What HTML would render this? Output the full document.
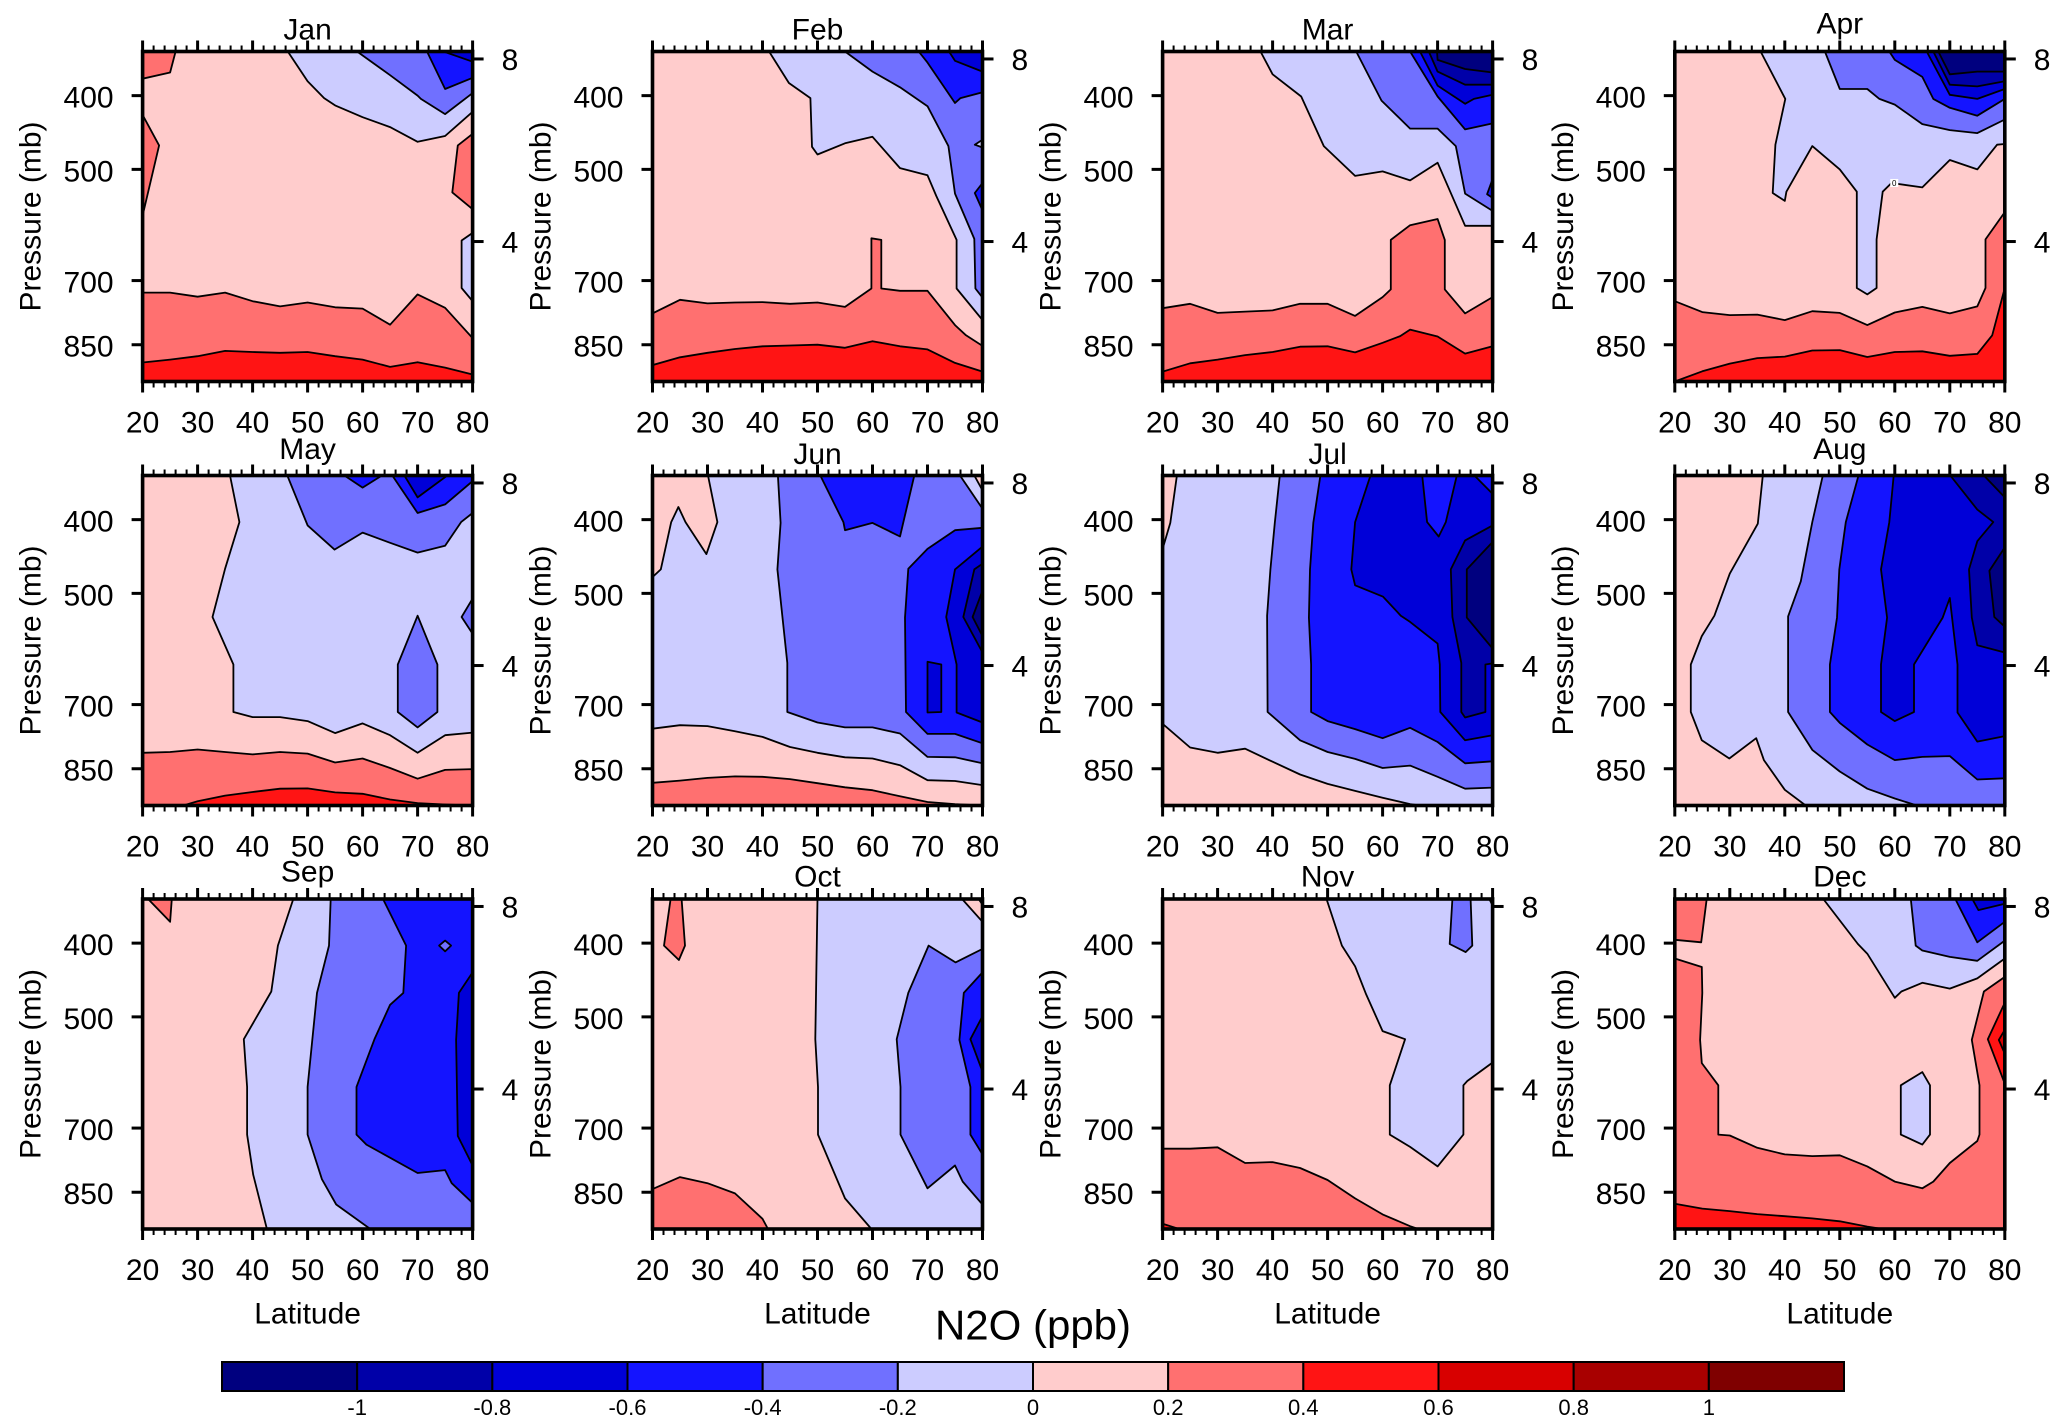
<!DOCTYPE html>
<html lang="en">
<head>
<meta charset="utf-8">
<title>N2O (ppb) monthly latitude-pressure panels</title>
<style>
html,body{margin:0;padding:0;background:#fff;}
svg{display:block;font-family:"Liberation Sans",Arial,sans-serif;fill:#000;}
</style>
</head>
<body>
<svg id="chart" xmlns="http://www.w3.org/2000/svg" width="2067" height="1428" viewBox="0 0 2067 1428">
  <rect x="0" y="0" width="2067" height="1428" fill="#ffffff"></rect>
  <text x="1033" y="1339.5" font-size="42" text-anchor="middle">N2O (ppb)</text>
</svg>
<script>
const months = ['Jan','Feb','Mar','Apr','May','Jun','Jul','Aug','Sep','Oct','Nov','Dec'];
const latTicks = [20,30,40,50,60,70,80];
const latMinorTicks = [22,24,26,28,32,34,36,38,42,44,46,48,52,54,56,58,62,64,66,68,72,74,76,78];
const pressureTicks = [400,500,700,850];
const heightTickLabels = [8,4];
const heightTickPressures = [358,622];
const levels = [-1.2,-1,-0.8,-0.6,-0.4,-0.2,0,0.2,0.4,0.6,0.8,1];
const colorbarLabels = ['-1','-0.8','-0.6','-0.4','-0.2','0','0.2','0.4','0.6','0.8','1'];

/* Each contour region: [lower band edge, [[latitude, pressure mb], ...]] painted in order */
const janContours = [
 [0.2,[[20,726],[25,726],[30,735],[35,726],[40,745],[45,757],[50,748],[55,759],[60,762],[65,800],[70,730],[75,760],[80,833],[80,950],[20,950]]],
 [0.4,[[20,897],[25,889],[30,880],[35,866],[40,869],[45,871],[50,869],[55,880],[60,889],[65,909],[70,896],[75,911],[80,930],[80,950],[20,950]]],
 [0.2,[[20,350],[26,350],[25,373],[20,380]]],
 [0.2,[[20,424],[23,465],[20,575]]],
 [0.2,[[80,449],[77.3,465],[76.3,536],[80,564]]],
 [-0.2,[[46.4,350],[50,383],[53,403],[55,412],[60,427],[65,440],[70,460],[75,452],[80,420],[80,350]]],
 [-0.2,[[80,606],[78,620],[78,716],[80,745]]],
 [-0.4,[[59,350],[65,376],[70,400],[70.6,404],[75,423],[80,397],[80,350]]],
 [-0.6,[[71.7,350],[75,392],[80,379],[80,350]]],
 [-0.8,[[74.7,350],[80,361],[80,350]]]
];
const febContours = [
 [0.2,[[20,773],[25,742],[30,750],[35,748],[40,747],[45,751],[50,748],[55,758],[59.8,717],[59.8,616],[61.6,619],[61.6,717],[65,722],[70,722],[75,801],[77,826],[80,853],[80,950],[20,950]]],
 [0.4,[[20,904],[25,883],[30,871],[35,861],[40,854],[45,852],[50,850],[55,858],[60,841],[65,854],[70,862],[75,898],[80,922],[80,950],[20,950]]],
 [-0.2,[[41.2,350],[44.8,385],[48.7,403],[49,467],[50,478],[55,462],[60,453],[65,498],[70,509],[71.6,542],[75.3,619],[75.3,717],[80,789],[80,350]]],
 [-0.4,[[55,350],[60,372],[65,390],[70,413],[73.8,466],[75,538],[78.5,617],[78.7,717],[80,737],[80,350]]],
 [-0.2,[[80,457],[78.6,464],[80,468]]],
 [-0.6,[[68.4,350],[70,362],[75,409],[76,403],[80,396],[80,350]]],
 [-0.6,[[80,521],[78.6,537],[80,566]]],
 [-0.8,[[73.9,350],[75,360],[80,372],[80,350]]]
];
const marContours = [
 [0.2,[[20,761],[25,751],[30,772],[35,769],[40,766],[45,751],[50,751],[55,779],[60,736],[61.5,719],[61.5,619],[65,592],[70,581],[71.3,619],[71.3,719],[75,773],[80,736],[80,950],[20,950]]],
 [0.4,[[20,922],[25,899],[30,889],[35,877],[40,869],[45,855],[50,854],[55,870],[60,845],[63.2,828],[65,812],[70,829],[75,873],[80,854],[80,950],[20,950]]],
 [-0.2,[[37.8,350],[40,375],[45.2,401],[49.3,466],[55,510],[60,503],[65,517],[70,490],[75,593],[80,593],[80,350]]],
 [-0.4,[[55.2,350],[59.8,406],[65,442],[70,442],[73.3,466],[75,538],[80,567],[80,350]]],
 [-0.6,[[65,350],[70,401],[75,443],[80,435],[80,350]]],
 [-0.6,[[80,515],[79,539],[80,545]]],
 [-0.8,[[66.8,350],[70,388],[75,410],[76.6,404],[80,399],[80,350]]],
 [-1,[[68.4,350],[70,372],[75,387],[80,387],[80,350]]],
 [-1.2,[[69.9,350],[70,359],[75,369],[80,373],[80,350]]]
];
const aprContours = [
 [0.2,[[20,745],[25,770],[30,777],[35,776],[40,789],[45,768],[50,772],[55,801],[60,771],[65,758],[70,773],[75,757],[76.5,716],[76.5,618],[80,569],[80,950],[20,950]]],
 [0.4,[[20,950],[25,921],[30,900],[35,885],[40,881],[45,865],[50,864],[55,882],[60,869],[65,867],[70,879],[75,874],[77.7,826],[80,716],[80,950]]],
 [-0.2,[[35.6,350],[40.1,404],[38.3,464],[37.8,537],[40,550],[40.3,535],[45,466],[50,500],[53.1,535],[53.1,716],[55,730],[56.7,716],[56.7,618],[57.8,535],[59.4,521],[65,528],[70,486],[75,500],[78.6,464],[80,463],[80,350]]],
 [-0.4,[[47.3,350],[50,392],[55,392],[57.2,404],[60,411],[65,436],[70,444],[75,448],[80,430],[80,350]]],
 [-0.6,[[59,350],[60,359],[65,378],[67,404],[70,415],[75,425],[80,404],[80,350]]],
 [-0.8,[[65.8,350],[70,399],[75,404],[80,392],[80,350]]],
 [-1,[[67,350],[70,387],[75,389],[80,383],[80,350]]],
 [-1.2,[[67.9,350],[70,375],[75,372],[80,372],[80,350]]]
];
const mayContours = [
 [0.2,[[20,810],[25,808],[30,802],[35,808],[40,814],[45,808],[50,812],[55,834],[60,824],[65,848],[70,876],[75,853],[80,851],[80,950],[20,950]]],
 [0.4,[[27.4,950],[30,938],[35,922],[40,912],[45,903],[50,902],[55,913],[60,917],[65,933],[70,943],[75,947],[80,950]]],
 [-0.2,[[35.9,350],[37.6,403],[35,464],[32.7,537],[36.5,620],[36.5,716],[40,727],[45,727],[50,736],[55,763],[60,741],[65,768],[70,810],[75,768],[80,762],[80,350]]],
 [-0.4,[[46.3,350],[50,407],[54.9,438],[60,416],[65,429],[70,442],[75,433],[77.9,403],[80,392],[80,350]]],
 [-0.4,[[70,535],[73.6,620],[73.6,716],[70,750],[66.4,716],[66.4,620]]],
 [-0.4,[[80,508],[78,537],[80,565]]],
 [-0.6,[[56.7,350],[60,363],[63.5,350]]],
 [-0.6,[[65.4,350],[70,392],[75,382],[80,356],[80,350]]],
 [-0.8,[[67.6,350],[70,374],[75.4,350]]]
];
const junContours = [
 [0.2,[[20,887],[25,881],[30,874],[35,870],[40,871],[45,877],[50,888],[55,899],[60,907],[65,924],[70,940],[75,946],[80,950],[20,950]]],
 [-0.2,[[20,753],[25,745],[30,747],[35,759],[40,772],[45,796],[50,810],[55,821],[60,824],[65,841],[70,880],[75,882],[80,893],[80,350],[20,350]]],
 [0,[[20,350],[30.1,350],[31.8,403],[29.8,444],[26,403],[24.7,385],[23.4,403],[21.5,465],[20,476]]],
 [-0.4,[[42.8,350],[43.3,404],[42.7,465],[44.5,617],[44.5,716],[50,739],[55,750],[60,750],[65,764],[70,820],[75,821],[80,836],[80,387],[75.9,350]]],
 [0,[[78.5,350],[80,350],[80,366]]],
 [-0.6,[[50.5,350],[54.7,403],[55,413],[60,404],[65,421],[67.6,350]]],
 [-0.6,[[80,410],[75,413],[70,437],[66.5,464],[65.9,538],[66.1,716],[70,765],[75,765],[80,787]]],
 [-0.8,[[80,434],[75,465],[73.4,537],[75.3,620],[75.3,717],[80,739]]],
 [-0.8,[[70,615],[72.5,620],[72.5,716],[70,717]]],
 [-1,[[80,457],[78.5,465],[76.5,537],[80,598]]],
 [-1.2,[[80,496],[78.2,537],[80,569]]]
];
const julContours = [
 [-0.2,[[20,742],[25,797],[30,810],[35,800],[40,832],[45,865],[50,890],[55,909],[60,928],[65,946],[66.8,950],[80,950],[80,350],[22.6,350],[21.4,404],[20,437]]],
 [-0.4,[[41.3,350],[40.4,404],[39.6,465],[39,535],[39.1,716],[45,780],[50,808],[55,825],[60,848],[65,842],[70,871],[75,903],[80,900],[80,350]]],
 [-0.6,[[48.7,350],[47.4,404],[46.8,465],[46.6,538],[47,620],[47,716],[50,736],[55,754],[60,775],[65,751],[70,784],[75,836],[80,831],[80,350]]],
 [-0.8,[[57.8,350],[55,403],[54.3,465],[55,488],[60.1,505],[63.3,535],[65,545],[70,582],[70.4,620],[70.5,716],[75,780],[80,768],[80,350]]],
 [-0.6,[[67.2,350],[68.1,403],[70.2,421],[71.5,403],[73.5,350]]],
 [-0.6,[[76.7,350],[80,370],[80,350]]],
 [-1,[[80,407],[75,426],[72.4,465],[72.7,537],[74.3,617],[74.3,716],[75,728],[78.7,716],[78.7,620],[80,618]]],
 [-1.2,[[80,428],[75.3,465],[75.3,538],[80,591]]]
];
const augContours = [
 [-0.2,[[36,350],[35.1,405],[30,471],[27.2,535],[24.9,569],[22.9,620],[22.9,716],[24.9,780],[29.9,824],[34.8,775],[36.2,828],[40,906],[43.8,950],[80,950],[80,350]]],
 [-0.4,[[46.9,350],[45,403],[42.9,482],[40.6,536],[40.6,716],[45,803],[50,857],[55,903],[60,930],[64,950],[80,950],[80,350]]],
 [-0.6,[[53.4,350],[51.1,403],[49.9,465],[49.5,538],[48.2,620],[48.2,716],[50,740],[55,790],[60,828],[65,820],[70,818],[75,878],[80,875],[80,350]]],
 [-0.8,[[59.8,350],[59,403],[57.5,465],[58.6,538],[57.5,620],[57.5,716],[60,736],[63.5,716],[63.5,620],[68.7,538],[70,507],[71.4,620],[71.4,717],[75,783],[80,770],[80,350]]],
 [-1,[[70.1,350],[75,388],[77.9,403],[75,427],[73.5,465],[74,538],[75,585],[80,598],[80,350]]],
 [-1.2,[[76.2,350],[80,374],[80,350]]],
 [-1.2,[[80,435],[77.2,467],[78.1,537],[80,553]]]
];
const sepContours = [
 [0.2,[[21,350],[25,375],[25.3,350]]],
 [-0.2,[[47.4,350],[44.6,403],[43.4,463],[38.4,535],[39,618],[39,714],[40.1,806],[42.6,950],[80,950],[80,350]]],
 [-0.4,[[54.2,350],[53.9,403],[51.7,465],[50,618],[50,714],[52.6,817],[55.2,882],[61.4,950],[80,950],[80,350]]],
 [-0.6,[[63.7,350],[67.9,403],[67.4,465],[65,482],[62.2,534],[58.9,618],[58.9,714],[60.7,736],[70,802],[75,795],[76.2,827],[80,878],[80,350]]],
 [-0.8,[[80,437],[77.5,465],[77,536],[77.3,717],[80,784]]],
 [-0.4,[[75,397],[76.1,403],[75,410],[73.9,403]]]
];
const octContours = [
 [0.2,[[20,842],[25,812],[30,827],[35,853],[40,921],[41,950],[20,950]]],
 [0.2,[[23.3,350],[22.1,403],[24.8,421],[25.9,403],[25.3,350]]],
 [-0.2,[[50,350],[49.6,535],[50.1,618],[50.1,714],[55,866],[59.8,950],[80,950],[80,350]]],
 [0,[[76.3,350],[80,375],[80,350]]],
 [0.2,[[79.3,350],[80,356],[80,350]]],
 [-0.4,[[80,407],[75.1,424],[70.2,403],[66.5,465],[64.4,535],[65.1,618],[65.1,714],[70,840],[75,784],[76.4,823],[80,882]]],
 [-0.6,[[80,437],[76.6,465],[75.8,536],[77.8,618],[77.8,714],[80,758]]],
 [-0.8,[[80,499],[77.8,535],[80,590]]]
];
const novContours = [
 [0.2,[[20,745],[25,745],[30,742],[35,778],[40,776],[45,790],[50,819],[55,866],[60,909],[65,942],[66.5,950],[20,950]]],
 [0.4,[[20,935],[23,950],[20,950]]],
 [-0.2,[[49.8,350],[52.6,403],[55,429],[57,467],[60,522],[64.1,535],[61.3,615],[61.3,714],[65,741],[70,786],[74.7,714],[74.7,615],[75.4,607],[80,574],[80,350]]],
 [0,[[79.4,350],[80,350],[80,357]]],
 [-0.4,[[72.7,350],[72.2,401],[75.1,411],[76.3,403],[76,350]]]
];
const decContours = [
 [0.2,[[20,350],[25.8,350],[24.8,399],[20,396]]],
 [0.2,[[20,419],[24.9,430],[25,465],[24.6,536],[24.9,575],[27.9,615],[27.9,714],[30,716],[35,743],[40,758],[45,762],[50,760],[55,786],[60,823],[65,840],[67,823],[70,778],[75,728],[75.4,714],[75.4,615],[74,536],[76.2,463],[80,443],[80,950],[20,950]]],
 [0.4,[[20,880],[25,893],[30,900],[35,908],[40,914],[45,920],[50,928],[55,943],[57.8,950],[20,950]]],
 [0.4,[[80,479],[76.9,535],[80,612]]],
 [0.6,[[80,520],[78.9,536],[80,559]]],
 [-0.2,[[47,350],[53.3,401],[55,413],[60,472],[61.2,463],[65,451],[70,459],[75,445],[80,419],[80,350]]],
 [-0.4,[[62.9,350],[63.8,403],[65,409],[70,417],[75,422],[80,397],[80,350]]],
 [-0.6,[[71,350],[75,399],[80,375],[80,350]]],
 [-0.8,[[74.1,350],[75.2,362],[80,355],[80,350]]],
 [-0.2,[[61.1,615],[65,591],[66.4,615],[66.4,714],[65,736],[61.1,714]]]
];
const monthContours = [janContours,febContours,marContours,aprContours,mayContours,junContours,julContours,augContours,sepContours,octContours,novContours,decContours];
const aprSmallLabelPoint = [59.9,521];

const palette = ['#00007f','#0000a8','#0000d8','#1414ff','#7070ff','#ccccff','#ffcccc','#ff7070','#ff1414','#d80000','#a80000','#7f0000'];
const columnLefts = [142.6,652.5,1162.6,1674.8];
const rowTops = [51.5,475.5,899];
const titleBaselineOffsets = [-12,-12,-12,-18,-16.5,-11.5,-11.5,-16.5,-17.5,-12.5,-12.5,-12.5];
const plotWidth = 330;
const plotHeight = 330;
const latMin = 20, latMax = 80, pMin = 350, pMax = 950;
const NS = 'http://www.w3.org/2000/svg';
const svg = document.getElementById('chart');

function make(tag, attrs, parent) {
  const el = document.createElementNS(NS, tag);
  for (const k in attrs) el.setAttribute(k, attrs[k]);
  parent.appendChild(el);
  return el;
}
function xAxis(lat, left) { return left + (lat - latMin) / (latMax - latMin) * plotWidth; }
function yAxis(p, top) { return top + Math.log(p / pMin) / Math.log(pMax / pMin) * plotHeight; }
function bandColor(band) { return palette[levels.indexOf(band)]; }

const defs = make('defs', {}, svg);

months.forEach(function (month, i) {
  const left = columnLefts[i % 4];
  const top = rowTops[Math.floor(i / 4)];
  const right = left + plotWidth;
  const bottom = top + plotHeight;
  const key = month.toLowerCase();

  const panel = make('g', {}, svg);
  
  

  const clip = make('clipPath', { id: 'clip-' + key }, defs);
  make('rect', { x: left, y: top, width: plotWidth, height: plotHeight }, clip);

  const field = make('g', { 'clip-path': 'url(#clip-' + key + ')' }, panel);
  
  

  const base = make('rect', { x: left, y: top, width: plotWidth, height: plotHeight, fill: bandColor(0) }, field);
  
  

  monthContours[i].forEach(function (region, r) {
    const pts = region[1].map(function (v) { return xAxis(v[0], left).toFixed(1) + ',' + yAxis(v[1], top).toFixed(1); }).join(' ');
    const poly = make('polygon', { points: pts, fill: bandColor(region[0]), stroke: '#000', 'stroke-width': 1.8, 'stroke-linejoin': 'round' }, field);
    
    
  });

  if (month === 'Apr') {
    const lx = xAxis(aprSmallLabelPoint[0], left);
    const ly = yAxis(aprSmallLabelPoint[1], top);
    const box = make('rect', { x: lx - 4, y: ly - 4, width: 8, height: 8, fill: '#fff' }, field);
    
    
    const zero = make('text', { x: lx, y: ly + 3, 'font-size': 8, 'text-anchor': 'middle' }, field);
    
    
    zero.textContent = '0';
  }

  const frame = make('rect', { x: left, y: top, width: plotWidth, height: plotHeight, fill: 'none', stroke: '#000', 'stroke-width': 3.6 }, panel);
  
  

  const title = make('text', { x: left + plotWidth / 2, y: top + titleBaselineOffsets[i], 'font-size': 30, 'text-anchor': 'middle' }, panel);
  
  
  title.textContent = month;

  latMinorTicks.forEach(function (lat) {
    const x = xAxis(lat, left);
    const tb = make('line', { x1: x, x2: x, y1: bottom, y2: bottom + 6, stroke: '#000', 'stroke-width': 2 }, panel);
    
    
    const tt = make('line', { x1: x, x2: x, y1: top, y2: top - 6, stroke: '#000', 'stroke-width': 2 }, panel);
    
    
  });

  latTicks.forEach(function (lat) {
    const x = xAxis(lat, left);
    const tb = make('line', { x1: x, x2: x, y1: bottom, y2: bottom + 11, stroke: '#000', 'stroke-width': 3 }, panel);
    
    
    const tt = make('line', { x1: x, x2: x, y1: top, y2: top - 11, stroke: '#000', 'stroke-width': 3 }, panel);
    
    
    const lab = make('text', { x: x, y: bottom + 51, 'font-size': 30, 'text-anchor': 'middle' }, panel);
    
    
    lab.textContent = lat;
  });

  pressureTicks.forEach(function (p) {
    const y = yAxis(p, top);
    const t = make('line', { x1: left, x2: left - 11, y1: y, y2: y, stroke: '#000', 'stroke-width': 3 }, panel);
    
    
    const lab = make('text', { x: left - 29, y: y + 12, 'font-size': 30, 'text-anchor': 'end' }, panel);
    
    
    lab.textContent = p;
  });

  heightTickLabels.forEach(function (h, k) {
    const y = yAxis(heightTickPressures[k], top);
    const t = make('line', { x1: right, x2: right + 11, y1: y, y2: y, stroke: '#000', 'stroke-width': 3 }, panel);
    
    
    const lab = make('text', { x: right + 29, y: y + 11, 'font-size': 30 }, panel);
    
    
    lab.textContent = h;
  });

  const cy = top + plotHeight / 2;
  const yTitle = make('text', { x: 0, y: 0, 'font-size': 30, 'text-anchor': 'middle', transform: 'translate(' + (left - 102) + ' ' + cy + ') rotate(-90)' }, panel);
  
  
  yTitle.textContent = 'Pressure (mb)';

  if (i >= 8) {
    const xTitle = make('text', { x: left + plotWidth / 2, y: 1323.5, 'font-size': 30, 'text-anchor': 'middle' }, panel);
    
    
    xTitle.textContent = 'Latitude';
  }
});

const barLeft = 222, barRight = 1848 - 4, barTop = 1362, barBottom = 1391;
const barStep = (barRight - barLeft) / levels.length;
const colorbar = make('g', {}, svg);


levels.forEach(function (band, i) {
  const box = make('rect', { x: barLeft + i * barStep, y: barTop, width: barStep, height: barBottom - barTop, fill: bandColor(band), stroke: '#000', 'stroke-width': 2 }, colorbar);
  
  
});
colorbarLabels.forEach(function (label, i) {
  const t = make('text', { x: barLeft + (i + 1) * barStep, y: 1415, 'font-size': 22, 'text-anchor': 'middle' }, colorbar);
  
  
  t.textContent = label;
});
</script>
</body>
</html>
